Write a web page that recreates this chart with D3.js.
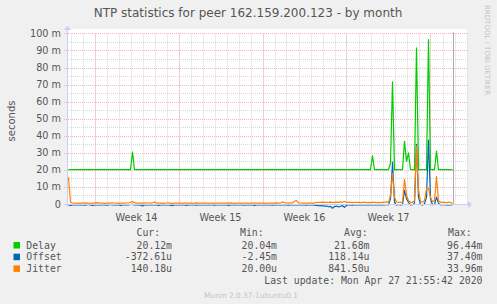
<!DOCTYPE html>
<html>
<head>
<meta charset="utf-8">
<script src="https://cdn.jsdelivr.net/npm/d3@7"></script>
<style>
  body { margin: 0; background: #f0f0f0; }
  svg { display: block; }
  text { font-family: "DejaVu Sans", sans-serif; }
  .mono { font-family: "DejaVu Sans Mono", monospace; }
</style>
</head>
<body>
<div id="chart"></div>
<script>
// samples every 4 hours, starting Mar 26 2020 20:00 UTC (values in milliseconds)
const delay = [
  20.1, 20.1, 20.1, 20.1, 20.1, 20.1,
  20.1, 20.1, 20.1, 20.1, 20.1, 20.1,
  20.1, 20.1, 20.1, 20.1, 20.1, 20.1,
  20.1, 20.1, 20.1, 20.1, 20.1, 20.1,
  20.1, 20.1, 20.1, 20.1, 20.1, 20.1,
  20.1, 20.1, 30.4, 20.1, 20.1, 20.1,
  20.1, 20.1, 20.1, 20.1, 20.1, 20.1,
  20.1, 20.1, 20.1, 20.1, 20.1, 20.1,
  20.1, 20.1, 20.1, 20.1, 20.1, 20.1,
  20.1, 20.1, 20.1, 20.1, 20.1, 20.1,
  20.1, 20.1, 20.1, 20.1, 20.1, 20.1,
  20.1, 20.1, 20.1, 20.1, 20.1, 20.1,
  20.1, 20.1, 20.1, 20.1, 20.1, 20.1,
  20.1, 20.1, 20.1, 20.1, 20.1, 20.1,
  20.1, 20.1, 20.1, 20.1, 20.1, 20.1,
  20.1, 20.1, 20.1, 20.1, 20.1, 20.1,
  20.1, 20.1, 20.1, 20.1, 20.1, 20.1,
  20.1, 20.1, 20.1, 20.1, 20.1, 20.1,
  20.1, 20.1, 20.1, 20.1, 20.1, 20.1,
  20.1, 20.1, 20.1, 20.1, 20.1, 20.1,
  20.1, 20.1, 20.1, 20.1, 20.1, 20.1,
  20.1, 20.1, 20.1, 20.1, 20.1, 20.1,
  20.1, 20.1, 20.1, 20.1, 20.1, 20.1,
  20.1, 20.1, 20.1, 20.1, 20.1, 20.1,
  20.1, 20.1, 20.1, 20.1, 20.1, 20.1,
  20.1, 20.1, 28.2, 20.1, 20.1, 20.1,
  20.1, 20.1, 20.1, 20.1, 20.1, 24.0,
  71.6, 20.1, 20.1, 20.1, 20.1, 20.1,
  36.7, 25.0, 30.0, 20.1, 20.1, 20.1,
  91.6, 20.1, 20.1, 20.1, 20.1, 20.1,
  96.44, 20.1, 20.1, 20.1, 31.0, 20.1,
  20.1, 20.1, 20.1, 20.1, 20.1, 20.1,
  20.12
];
const offset = [
  -0.6, -0.9, -0.5, -0.4, -0.5, -0.6,
  -0.5, -0.4, -0.7, -0.5, -0.3, -0.6,
  -0.8, -0.5, -0.4, -0.6, -0.5, -0.4,
  -0.5, -0.7, -0.6, -0.3, -0.5, -0.6,
  -0.4, -0.5, -0.8, -0.5, -0.4, -0.6,
  -0.5, -0.3, -0.2, -0.6, -0.5, -0.4,
  -0.7, -1.2, -0.6, -0.5, -0.4, -0.6,
  -0.5, -0.6, -0.4, -0.8, -0.5, -0.5,
  -0.4, -0.6, -0.5, -0.7, -0.9, -0.5,
  -0.6, -0.5, -0.4, -0.5, -0.6, -0.8,
  -0.5, -0.4, -0.6, -0.5, -0.7, -0.5,
  -0.6, -0.5, -0.5, -0.4, -0.6, -0.5,
  -0.5, -0.7, -0.6, -0.5, -0.4, -0.6,
  -0.5, -0.6, -0.8, -0.5, -0.5, -0.4,
  -0.6, -0.5, -0.4, -0.6, -0.7, -0.5,
  -0.5, -0.6, -0.5, -0.9, -0.6, -0.5,
  -0.4, -0.5, -0.6, -0.5, -0.4, -0.6,
  -0.7, -0.5, -0.5, -0.6, -0.5, -0.4,
  -0.5, -0.6, -0.7, -0.5, -0.6, -0.5,
  -0.6, -0.5, -0.4, -0.5, -0.6, -0.7,
  -0.5, -0.6, -0.5, -0.7, -0.8, -1.0,
  -1.1, -0.9, -1.3, -1.2, -1.6, -1.4,
  -2.45, -1.5, -1.2, -1.8, -1.3, -1.0,
  -2.0, -0.8, -0.6, -0.5, -0.7, -0.5,
  -0.6, -0.5, -0.4, -0.6, -0.5, -0.6,
  -0.5, -0.6, -0.4, -0.5, -0.6, -0.5,
  -0.4, -0.6, -0.5, -0.3, -0.5, 3.0,
  24.5, 1.0, -0.6, -0.3, -0.5, -0.4,
  8.0, 3.0, 1.0, -0.5, -0.4, 0.5,
  35.0, 4.0, -0.3, -0.5, 0.0, 4.0,
  37.4, 3.0, -0.4, -0.3, 4.0, 0.5,
  -0.5, -0.3, -0.4, -0.5, -0.4, -0.6,
  -0.37
];
const jitter = [
  15.7, 0.9, 0.6, 0.5, 0.6, 0.4,
  0.5, 0.6, 0.5, 0.7, 0.5, 0.4,
  0.6, 0.5, 0.8, 0.5, 0.6, 0.5,
  0.4, 0.6, 0.5, 0.5, 0.7, 0.6,
  0.5, 0.4, 0.6, 0.5, 0.5, 0.6,
  0.6, 1.0, 1.4, 0.8, 0.5, 0.6,
  0.5, 0.6, 0.5, 0.7, 0.6, 0.5,
  0.6, 1.2, 0.5, 0.6, 0.5, 0.4,
  0.5, 0.6, 0.7, 0.5, 0.4, 0.6,
  0.5, 0.6, 0.5, 0.4, 0.6, 0.5,
  0.6, 0.5, 0.4, 0.5, 0.7, 0.5,
  0.5, 0.6, 0.5, 0.5, 0.4, 0.6,
  0.5, 0.4, 0.6, 0.5, 0.6, 0.5,
  0.6, 0.5, 0.5, 0.7, 0.5, 0.4,
  0.5, 0.6, 0.4, 0.5, 0.6, 0.5,
  0.4, 0.5, 0.6, 0.5, 0.5, 0.6,
  0.5, 0.6, 0.5, 0.4, 0.6, 0.5,
  0.6, 0.5, 0.7, 0.5, 0.6, 1.2,
  0.8, 0.6, 0.5, 0.7, 0.6, 1.6,
  2.0, 0.7, 0.6, 0.5, 0.6, 0.5,
  0.6, 0.5, 0.6, 0.5, 0.9, 1.0,
  1.0, 1.1, 0.9, 1.0, 1.0, 1.1,
  1.0, 1.0, 1.1, 1.0, 1.2, 1.0,
  1.5, 1.0, 0.9, 1.0, 0.8, 1.0,
  0.9, 1.0, 0.8, 0.9, 1.0, 0.8,
  0.9, 0.8, 1.0, 0.9, 0.8, 1.0,
  0.8, 0.9, 1.0, 1.2, 1.0, 5.0,
  18.0, 4.0, 1.2, 0.9, 1.0, 1.2,
  14.5, 5.0, 2.0, 1.0, 1.0, 2.0,
  33.96, 8.0, 1.5, 1.0, 2.0, 9.0,
  9.0, 4.0, 1.5, 2.0, 16.0, 2.0,
  1.0, 0.9, 1.0, 0.8, 0.9, 1.0,
  0.14
];

const seriesNames = ['Delay', 'Offset', 'Jitter'];
const seriesColors = ['#00cc00', '#0066b3', '#ff8000'];
const curVals = ['20.12m', '-372.61u', '140.18u'];
const minVals = ['20.04m', '-2.45m', '20.00u'];
const avgVals = ['21.68m', '118.14u', '841.50u'];
const maxVals = ['96.44m', '37.40m', '33.96m'];

const yTicks = [0, 10, 20, 30, 40, 50, 60, 70, 80, 90, 100];
const yMinor = [5, 15, 25, 35, 45, 55, 65, 75, 85, 95];
const weekStarts = ['2020-03-29', '2020-04-05', '2020-04-12', '2020-04-19', '2020-04-26'];
const weekLabels = ['Week 14', 'Week 15', 'Week 16', 'Week 17'];

const startTime = Date.UTC(2020, 2, 26, 20);
const stepMs = 4 * 3600 * 1000;
const lastUpdate = new Date(Date.UTC(2020, 3, 27, 21, 55, 42));

const W = 497, H = 304;
const plotLeft = 67, plotRight = 467, plotTop = 29, plotBottom = 204;

const svg = d3.select('#chart').append('svg')
  .attr('width', W).attr('height', H);

svg.append('rect').attr('width', W).attr('height', H).attr('fill', '#f0f0f0');

const x = d3.scaleUtc()
  .domain([new Date(Date.UTC(2020, 2, 26, 17)), new Date(Date.UTC(2020, 3, 29, 1))])
  .range([plotLeft, plotRight]);
const y = d3.scaleLinear().domain([0, 102.6]).range([plotBottom, plotTop]);

// plot background
svg.append('rect')
  .attr('x', plotLeft).attr('y', plotTop)
  .attr('width', plotRight - plotLeft).attr('height', plotBottom - plotTop)
  .attr('fill', '#ffffff');

const grid = svg.append('g');

// minor grid: days and 5m steps
const days = d3.utcDay.range(x.domain()[0], x.domain()[1]);
grid.selectAll('.vday').data(days).enter().append('line')
  .attr('x1', d => Math.round(x(d)) + 0.5).attr('x2', d => Math.round(x(d)) + 0.5)
  .attr('y1', y(100)).attr('y2', plotBottom)
  .attr('stroke', '#d6d6d6').attr('stroke-dasharray', '1,1');
grid.selectAll('.hmin').data(yMinor).enter().append('line')
  .attr('x1', plotLeft).attr('x2', plotRight)
  .attr('y1', d => Math.round(y(d)) + 0.5).attr('y2', d => Math.round(y(d)) + 0.5)
  .attr('stroke', '#d6d6d6').attr('stroke-dasharray', '1,1');

// major grid
const weeks = weekStarts.map(s => new Date(s + 'T00:00:00Z'));
grid.selectAll('.vweek').data(weeks).enter().append('line')
  .attr('x1', d => Math.round(x(d)) + 0.5).attr('x2', d => Math.round(x(d)) + 0.5)
  .attr('y1', y(100)).attr('y2', plotBottom + 3)
  .attr('stroke', '#f7b4b4').attr('stroke-dasharray', '1,1');
grid.selectAll('.hmaj').data(yTicks.slice(1)).enter().append('line')
  .attr('x1', plotLeft - 3).attr('x2', plotRight)
  .attr('y1', d => Math.round(y(d)) + 0.5).attr('y2', d => Math.round(y(d)) + 0.5)
  .attr('stroke', '#f7b4b4').attr('stroke-dasharray', '1,1');

// y tick labels
svg.selectAll('.ylab').data(yTicks).enter().append('text')
  .attr('x', plotLeft - 6).attr('y', d => y(d) + 3.5)
  .attr('text-anchor', 'end')
  .attr('font-size', '9.7px').attr('fill', '#555')
  .text(d => d === 0 ? '0' : d + ' m');

// week labels
svg.selectAll('.wlab').data(weekLabels).enter().append('text')
  .attr('x', (d, i) => x(d3.utcHour.offset(weeks[i], 84)))
  .attr('y', 221)
  .attr('text-anchor', 'middle')
  .attr('font-size', '9.7px').attr('fill', '#555')
  .text(d => d);

// series lines
const line = d3.line()
  .x((d, i) => x(new Date(startTime + i * stepMs)))
  .y(d => y(d));
[delay, offset, jitter].forEach((vals, k) => {
  svg.append('path')
    .datum(vals)
    .attr('d', line)
    .attr('fill', 'none')
    .attr('stroke', seriesColors[k])
    .attr('stroke-width', 1.2)
    .attr('stroke-linejoin', 'round');
});

// last update rule
svg.append('line')
  .attr('x1', Math.round(x(lastUpdate)) + 0.5).attr('x2', Math.round(x(lastUpdate)) + 0.5)
  .attr('y1', y(100) - 1).attr('y2', plotBottom)
  .attr('stroke', '#aaa').attr('stroke-width', 1);

// axes with arrows
const axisColor = '#c8cff5';
svg.append('line')
  .attr('x1', plotLeft - 3).attr('x2', plotRight + 1)
  .attr('y1', plotBottom + 0.5).attr('y2', plotBottom + 0.5)
  .attr('stroke', axisColor);
svg.append('line')
  .attr('x1', plotLeft + 0.5).attr('x2', plotLeft + 0.5)
  .attr('y1', plotBottom + 3).attr('y2', plotTop)
  .attr('stroke', axisColor);
svg.append('path')
  .attr('d', `M${plotRight + 1},${plotBottom - 3} L${plotRight + 5},${plotBottom + 0.5} L${plotRight + 1},${plotBottom + 4} Z`)
  .attr('fill', axisColor);
svg.append('path')
  .attr('d', `M${plotLeft - 3},${plotTop + 1} L${plotLeft + 0.5},${plotTop - 3} L${plotLeft + 4},${plotTop + 1} Z`)
  .attr('fill', axisColor);

// title and labels
svg.append('text')
  .attr('x', 248).attr('y', 17)
  .attr('text-anchor', 'middle')
  .attr('font-size', '12px').attr('fill', '#555')
  .text('NTP statistics for peer 162.159.200.123 - by month');

svg.append('text')
  .attr('transform', 'translate(15,121) rotate(-90)')
  .attr('text-anchor', 'middle')
  .attr('font-size', '10px').attr('fill', '#555')
  .text('seconds');

svg.append('text')
  .attr('transform', 'translate(485,5) rotate(90)')
  .attr('text-anchor', 'start')
  .attr('font-size', '7px').attr('fill', '#c4c4c4')
  .text('RRDTOOL / TOBI OETIKER');

// legend
const legend = svg.append('g').attr('class', 'mono')
  .attr('font-size', '9.8px').attr('fill', '#555');
const headers = [['Cur:', 136.5], ['Min:', 240], ['Avg:', 344], ['Max:', 448]];
headers.forEach(h => {
  legend.append('text').attr('class', 'mono')
    .attr('x', h[1]).attr('y', 235.8).text(h[0]);
});
const colRight = [172, 277, 369.5, 482.5];
seriesNames.forEach((name, i) => {
  const yy = 248.5 + i * 11.7;
  legend.append('rect')
    .attr('x', 13.5).attr('y', yy - 6.5)
    .attr('width', 6.5).attr('height', 6.5)
    .attr('fill', seriesColors[i]);
  legend.append('text').attr('class', 'mono')
    .attr('x', 26.3).attr('y', yy).text(name);
  [curVals[i], minVals[i], avgVals[i], maxVals[i]].forEach((v, j) => {
    legend.append('text').attr('class', 'mono')
      .attr('x', colRight[j]).attr('y', yy)
      .attr('text-anchor', 'end').text(v);
  });
});
legend.append('text').attr('class', 'mono')
  .attr('x', 482.5).attr('y', 283.5)
  .attr('text-anchor', 'end')
  .text('Last update: Mon Apr 27 21:55:42 2020');

svg.append('text')
  .attr('x', 251).attr('y', 298)
  .attr('text-anchor', 'middle')
  .attr('font-size', '7.4px').attr('fill', '#c4c4c4')
  .text('Munin 2.0.37-1ubuntu0.1');
</script>
</body>
</html>
